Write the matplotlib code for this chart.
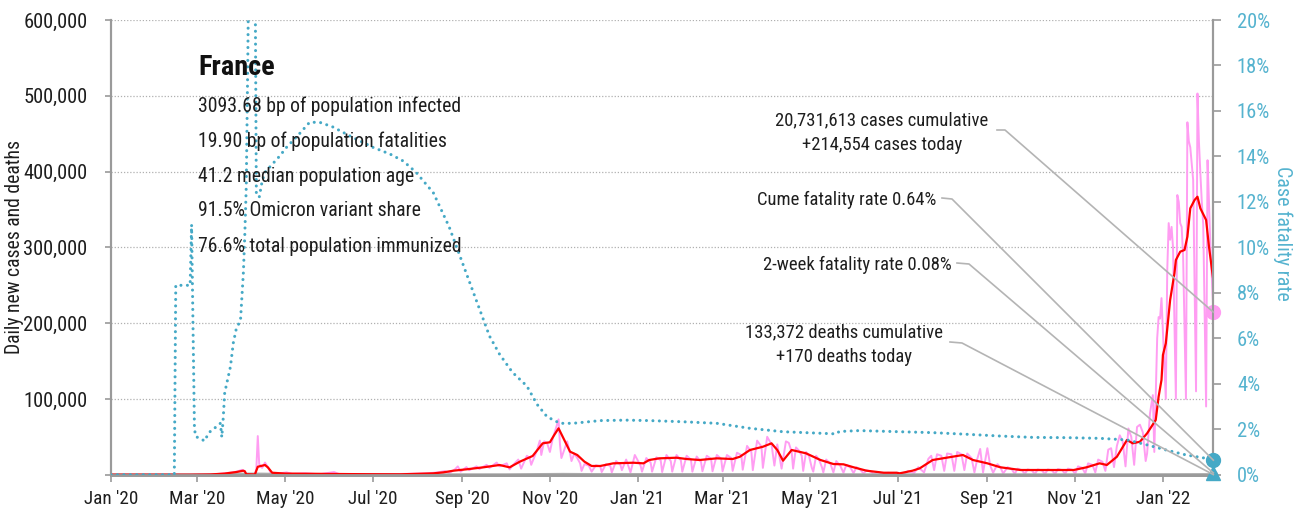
import matplotlib
matplotlib.use('Agg')
import matplotlib.pyplot as plt
import matplotlib.dates as mdates
from matplotlib.lines import Line2D
from matplotlib import font_manager
import pandas as pd

# --- fonts: prefer a narrow/condensed face if one is installed -------------
FONT, STRETCH = 'DejaVu Sans', 'normal'
cands = []
for f in font_manager.fontManager.ttflist:
    key = (f.name + ' ' + f.fname).lower()
    if f.weight in (400, 'normal', 'regular') and f.style == 'normal' and \
            ('narrow' in key or 'condensed' in key) and 'mono' not in key and 'serif' not in key:
        cands.append(f)
for pref in ('liberation sans narrow', 'roboto condensed', 'open sans condensed', 'noto sans', 'dejavu sans'):
    hit = [f for f in cands if pref in (f.name + ' ' + f.fname).lower()]
    if hit:
        FONT, STRETCH = hit[0].name, hit[0].stretch
        break
plt.rcParams['font.family'] = [FONT, 'DejaVu Sans']
plt.rcParams['font.stretch'] = STRETCH

# --- data ----------------------------------------------------
# 7-day average of new cases (red)
avg_dates = ['2020-01-01', '2020-02-25', '2020-03-10', '2020-03-20', '2020-03-28', '2020-04-02',
             '2020-04-03', '2020-04-04', '2020-04-10', '2020-04-12', '2020-04-17', '2020-04-19',
             '2020-04-22', '2020-05-01', '2020-05-20', '2020-06-15', '2020-07-01', '2020-07-20',
             '2020-08-12', '2020-08-19', '2020-08-26', '2020-09-04', '2020-09-16', '2020-09-27',
             '2020-10-04', '2020-10-11', '2020-10-20', '2020-10-27', '2020-11-01', '2020-11-04',
             '2020-11-07', '2020-11-11', '2020-11-15', '2020-11-20', '2020-11-25', '2020-11-30',
             '2020-12-06', '2020-12-15', '2020-12-29', '2021-01-05', '2021-01-09', '2021-01-16',
             '2021-01-28', '2021-02-04', '2021-02-13', '2021-02-25', '2021-03-08', '2021-03-13',
             '2021-03-20', '2021-03-29', '2021-04-04', '2021-04-08', '2021-04-12', '2021-04-18',
             '2021-04-28', '2021-05-08', '2021-05-17', '2021-05-24', '2021-05-31', '2021-06-09',
             '2021-06-21', '2021-06-30', '2021-07-02', '2021-07-11', '2021-07-16', '2021-07-25',
             '2021-08-01', '2021-08-15', '2021-08-22', '2021-09-01', '2021-09-10', '2021-09-24',
             '2021-10-15', '2021-10-31', '2021-11-09', '2021-11-18', '2021-11-23', '2021-11-30',
             '2021-12-07', '2021-12-11', '2021-12-16', '2021-12-21', '2021-12-27', '2021-12-29',
             '2021-12-31', '2022-01-01', '2022-01-03', '2022-01-06', '2022-01-09', '2022-01-10',
             '2022-01-13', '2022-01-16', '2022-01-18', '2022-01-20', '2022-01-23', '2022-01-25',
             '2022-01-27', '2022-01-31', '2022-02-02', '2022-02-05']
avg_cases = [0, 0, 300, 1500, 3500, 5300,
             4500, 600, 300, 10500, 12800, 9700,
             2600, 1500, 1200, 800, 600, 500,
             1800, 3100, 5300, 7100, 9800, 12800,
             9700, 17100, 24700, 41400, 42800, 52400,
             61200, 45800, 30400, 26000, 17200, 11500,
             11500, 15000, 15800, 15000, 19400, 21600,
             22400, 20700, 19400, 21600, 20700, 23700,
             32600, 36900, 41400, 32600, 18500, 32600,
             28200, 19400, 14100, 13700, 9800, 5300,
             2600, 2600, 1800, 5300, 8400, 19400,
             21600, 26000, 19400, 15000, 9800, 6200,
             6200, 6200, 9800, 15000, 12800, 23700,
             45800, 41400, 43500, 54600, 72200, 103000,
             125000, 158000, 173400, 230500, 265800, 283300,
             294300, 296500, 314100, 351500, 362500, 366800,
             351500, 336100, 300900, 256900]

# daily new cases (pink)
daily_dates = ['2020-01-01', '2020-02-25', '2020-03-10', '2020-03-15', '2020-03-20', '2020-03-25',
               '2020-03-29', '2020-04-01', '2020-04-03', '2020-04-04', '2020-04-10', '2020-04-11',
               '2020-04-12', '2020-04-13', '2020-04-15', '2020-04-17', '2020-04-19', '2020-04-21',
               '2020-04-26', '2020-05-02', '2020-05-06', '2020-05-15', '2020-05-25', '2020-06-04',
               '2020-06-08', '2020-06-20', '2020-07-05', '2020-07-20', '2020-08-01', '2020-08-08',
               '2020-08-15', '2020-08-20', '2020-08-23', '2020-08-27', '2020-08-29', '2020-08-31',
               '2020-09-04', '2020-09-06', '2020-09-11', '2020-09-13', '2020-09-18', '2020-09-20',
               '2020-09-25', '2020-09-27', '2020-10-02', '2020-10-04', '2020-10-06', '2020-10-10',
               '2020-10-12', '2020-10-16', '2020-10-18', '2020-10-19', '2020-10-23', '2020-10-25',
               '2020-10-26', '2020-10-28', '2020-10-30', '2020-11-01', '2020-11-03', '2020-11-05',
               '2020-11-07', '2020-11-08', '2020-11-09', '2020-11-11', '2020-11-13', '2020-11-15',
               '2020-11-16', '2020-11-18', '2020-11-20', '2020-11-22', '2020-11-23', '2020-11-25',
               '2020-11-28', '2020-11-30', '2020-12-03', '2020-12-06', '2020-12-07', '2020-12-10',
               '2020-12-13', '2020-12-14', '2020-12-17', '2020-12-20', '2020-12-21', '2020-12-24',
               '2020-12-27', '2020-12-30', '2021-01-03', '2021-01-04', '2021-01-07', '2021-01-10',
               '2021-01-11', '2021-01-14', '2021-01-17', '2021-01-18', '2021-01-21', '2021-01-24',
               '2021-01-25', '2021-01-28', '2021-01-31', '2021-02-01', '2021-02-04', '2021-02-07',
               '2021-02-08', '2021-02-11', '2021-02-14', '2021-02-15', '2021-02-18', '2021-02-21',
               '2021-02-22', '2021-02-25', '2021-02-28', '2021-03-01', '2021-03-04', '2021-03-07',
               '2021-03-08', '2021-03-11', '2021-03-14', '2021-03-15', '2021-03-18', '2021-03-21',
               '2021-03-22', '2021-03-25', '2021-03-28', '2021-03-29', '2021-04-01', '2021-04-04',
               '2021-04-06', '2021-04-08', '2021-04-11', '2021-04-14', '2021-04-16', '2021-04-18',
               '2021-04-19', '2021-04-21', '2021-04-23', '2021-04-25', '2021-04-26', '2021-04-28',
               '2021-04-30', '2021-05-02', '2021-05-03', '2021-05-05', '2021-05-07', '2021-05-09',
               '2021-05-10', '2021-05-12', '2021-05-15', '2021-05-17', '2021-05-19', '2021-05-22',
               '2021-05-24', '2021-05-26', '2021-05-29', '2021-05-31', '2021-06-02', '2021-06-05',
               '2021-06-07', '2021-06-09', '2021-06-12', '2021-06-14', '2021-06-17', '2021-06-21',
               '2021-06-24', '2021-06-28', '2021-07-01', '2021-07-05', '2021-07-08', '2021-07-12',
               '2021-07-15', '2021-07-19', '2021-07-22', '2021-07-24', '2021-07-26', '2021-07-28',
               '2021-07-31', '2021-08-02', '2021-08-04', '2021-08-07', '2021-08-09', '2021-08-11',
               '2021-08-14', '2021-08-16', '2021-08-18', '2021-08-21', '2021-08-23', '2021-08-25',
               '2021-08-27', '2021-08-29', '2021-09-01', '2021-09-03', '2021-09-05', '2021-09-08',
               '2021-09-10', '2021-09-12', '2021-09-15', '2021-09-18', '2021-09-20', '2021-09-22',
               '2021-09-25', '2021-09-27', '2021-09-29', '2021-10-02', '2021-10-04', '2021-10-06',
               '2021-10-09', '2021-10-11', '2021-10-13', '2021-10-16', '2021-10-18', '2021-10-20',
               '2021-10-23', '2021-10-25', '2021-10-27', '2021-10-30', '2021-11-01', '2021-11-03',
               '2021-11-06', '2021-11-08', '2021-11-10', '2021-11-13', '2021-11-15', '2021-11-17',
               '2021-11-20', '2021-11-22', '2021-11-24', '2021-11-26', '2021-11-28', '2021-11-30',
               '2021-12-02', '2021-12-04', '2021-12-06', '2021-12-08', '2021-12-10', '2021-12-12',
               '2021-12-14', '2021-12-16', '2021-12-18', '2021-12-20', '2021-12-21', '2021-12-23',
               '2021-12-25', '2021-12-26', '2021-12-28', '2021-12-29', '2021-12-30', '2021-12-31',
               '2022-01-03', '2022-01-04', '2022-01-05', '2022-01-06', '2022-01-07', '2022-01-08',
               '2022-01-10', '2022-01-11', '2022-01-12', '2022-01-13', '2022-01-14', '2022-01-15',
               '2022-01-17', '2022-01-18', '2022-01-19', '2022-01-20', '2022-01-21', '2022-01-22',
               '2022-01-24', '2022-01-25', '2022-01-26', '2022-01-27', '2022-01-28', '2022-01-29',
               '2022-01-31', '2022-02-01', '2022-02-02', '2022-02-03', '2022-02-04', '2022-02-05']
daily_cases = [0, 0, 400, 900, 1800, 2900,
               4300, 6500, 4000, 0, 0, 8000,
               51000, 14000, 9000, 16000, 10000, 2500,
               1500, 3000, 1000, 1800, 600, 3500,
               500, 900, 400, 900, 1400, 1800,
               3000, 4800, 2000, 7000, 11000, 4000,
               10000, 6000, 11000, 7500, 13000, 9000,
               16000, 11000, 15000, 7000, 12000, 20000,
               8000, 25000, 22000, 13000, 32000, 45000,
               26000, 44000, 42000, 30000, 48000, 60000,
               73000, 40000, 22000, 33000, 44000, 28000,
               18000, 28000, 22000, 15000, 5000, 14000,
               12000, 4000, 12500, 11000, 3500, 14000,
               11500, 3000, 18000, 13000, 6000, 20000,
               3000, 26000, 12000, 4000, 22000, 16000,
               4000, 23000, 19000, 3500, 26000, 18000,
               4000, 26000, 19000, 4000, 25000, 20000,
               4000, 24000, 17000, 4500, 25000, 21000,
               4500, 26000, 21000, 4500, 26000, 22000,
               5000, 29000, 26000, 6500, 38000, 30000,
               6000, 45000, 37000, 9000, 50000, 40000,
               12000, 40000, 8000, 44000, 42000, 30000,
               8000, 36000, 32000, 25000, 5000, 30000,
               25000, 9000, 4000, 25000, 20000, 10000,
               3000, 20000, 14000, 3000, 18000, 11000,
               2500, 13000, 9000, 2000, 10000, 6000,
               1500, 6000, 4000, 1000, 3500, 1000,
               2500, 1000, 2500, 1000, 5000, 2000,
               10000, 3000, 21000, 25000, 6000, 27000,
               25000, 5000, 28000, 27000, 5000, 30000,
               27000, 6000, 28000, 22000, 3000, 21000,
               34000, 3000, 35000, 12000, 2500, 14000,
               10000, 1500, 10000, 7000, 1000, 8000,
               6000, 800, 7000, 5500, 700, 7000,
               5500, 700, 7000, 5500, 700, 7500,
               6000, 1000, 8000, 6500, 1000, 11000,
               9000, 1500, 15000, 13000, 3000, 20000,
               17000, 5000, 33000, 35000, 10000, 38000,
               52000, 44000, 11000, 61000, 50000, 13000,
               63000, 66000, 56000, 18000, 28000, 81000,
               105000, 30000, 180000, 208000, 206000, 233000,
               100000, 270000, 332000, 310000, 327000, 300000,
               100000, 369000, 360000, 332000, 327000, 290000,
               100000, 465000, 440000, 432000, 410000, 389000,
               110000, 503000, 440000, 398000, 360000, 330000,
               90000, 415000, 360000, 300000, 260000, 214554]

# daily deaths, 7-day average (grey, near zero on this scale)
death_dates = ['2020-01-01', '2020-03-10', '2020-04-05', '2020-04-15', '2020-05-15', '2020-06-15',
               '2020-08-01', '2020-10-01', '2020-11-10', '2020-12-01', '2021-02-01', '2021-04-15',
               '2021-06-15', '2021-08-20', '2021-10-15', '2021-12-20', '2022-01-31', '2022-02-05']
deaths = [0, 10, 1000, 900, 150, 30, 15, 60, 600, 350, 350, 300, 40, 100, 30, 150, 280, 170]

# case fatality rate, % (dotted teal, right axis)
cfr_dates = ['2020-01-01', '2020-02-14', '2020-02-15', '2020-02-25', '2020-02-26', '2020-02-28',
             '2020-02-29', '2020-03-03', '2020-03-06', '2020-03-09', '2020-03-14', '2020-03-17',
             '2020-03-18', '2020-03-19', '2020-03-20', '2020-03-24', '2020-03-26', '2020-03-28',
             '2020-03-31', '2020-04-02', '2020-04-03', '2020-04-04', '2020-04-05', '2020-04-06',
             '2020-04-10', '2020-04-11', '2020-04-13', '2020-04-15', '2020-04-17', '2020-04-27',
             '2020-05-02', '2020-05-11', '2020-05-18', '2020-05-25', '2020-06-03', '2020-06-15',
             '2020-07-01', '2020-07-13', '2020-07-22', '2020-07-31', '2020-08-12', '2020-08-23',
             '2020-08-30', '2020-09-06', '2020-09-13', '2020-09-20', '2020-09-27', '2020-10-06',
             '2020-10-16', '2020-10-23', '2020-10-30', '2020-11-08', '2020-11-17', '2020-12-06',
             '2020-12-24', '2021-01-09', '2021-02-01', '2021-02-25', '2021-03-20', '2021-04-12',
             '2021-05-17', '2021-05-19', '2021-05-21', '2021-06-04', '2021-07-02', '2021-07-25',
             '2021-08-17', '2021-09-10', '2021-10-03', '2021-10-26', '2021-11-18', '2021-12-07',
             '2021-12-21', '2022-01-03', '2022-01-17', '2022-01-31', '2022-02-05']
cfr = [0, 0, 8.33, 8.33, 11.0, 2.0,
       1.67, 1.6, 1.48, 1.85, 2.1, 2.26,
       1.65, 2.5, 3.6, 4.75, 5.8, 6.4,
       6.8, 8.9, 10.6, 12.7, 17.9, 24.0,
       24.0, 12.4, 12.2, 12.9, 13.3, 14.0,
       14.4, 15.0, 15.5, 15.5, 15.3, 14.9,
       14.4, 14.1, 13.8, 13.3, 12.4, 10.9,
       9.7, 8.5, 7.3, 6.1, 5.3, 4.5,
       3.9, 3.1, 2.55, 2.26, 2.26, 2.38,
       2.4, 2.38, 2.33, 2.26, 2.04, 1.89,
       1.80, 1.79, 1.90, 1.94, 1.89, 1.85,
       1.78, 1.70, 1.64, 1.63, 1.60, 1.53,
       1.31, 1.09, 0.87, 0.72, 0.64]

x_ticks = ['2020-01-01', '2020-03-01', '2020-05-01', '2020-07-01', '2020-09-01', '2020-11-01',
           '2021-01-01', '2021-03-01', '2021-05-01', '2021-07-01', '2021-09-01', '2021-11-01',
           '2022-01-01']

stats = ['3093.68 bp of population infected', '19.90 bp of population fatalities',
         '41.2 median population age', '91.5% Omicron variant share',
         '76.6% total population immunized']
two_week_cfr = 0.08
last_day = '2022-02-05'

# --- colours -------------------------------------------------
PINK = '#ff9df2'
RED = '#ff0000'
TEAL = '#45a9c6'
TEAL_TXT = '#55b3cf'
GREY = '#9a9a9a'
INK = '#1e1e1e'
W, H = 1295, 511


def px(x, y):
    return x / W, 1 - y / H


fig = plt.figure(figsize=(W / 100, H / 100), dpi=100)
renderer = fig.canvas.get_renderer()


def fit(s, width, weight='normal'):
    # font size that gives the same text width as in the reference
    tt = fig.text(0, 0, s, fontsize=10, fontweight=weight)
    w = tt.get_window_extent(renderer).width
    tt.remove()
    return 10 * width / w


FS_TICK = fit('600,000', 64)
FS_XTICK = fit("Mar '20", 56)
FS_BODY = fit(stats[0], 262)
FS_TITLE = fit('France', 76, 'semibold')
FS_NOTE = fit('Cume fatality rate 0.64%', 178)
FS_YLAB = fit('Daily new cases and deaths', 212)
FS_Y2LAB = fit('Case fatality rate', 133)

ax = fig.add_axes([111 / W, 1 - 474.7 / H, (1213.3 - 111) / W, (474.7 - 20) / H])
ax2 = ax.twinx()

t = pd.to_datetime
ax.plot(t(daily_dates), daily_cases, color=PINK, lw=1.4, zorder=2)
ax.plot(t(death_dates), deaths, color='#aaaaaa', lw=2, zorder=3)
ax.plot(t(avg_dates), avg_cases, color=RED, lw=1.6, zorder=4)
ax2.plot(t(cfr_dates), cfr, color=TEAL, lw=2.2, linestyle=(0, (0.01, 2.1)),
         dash_capstyle='round', zorder=3)

end = t(last_day)
ax.plot([end], [daily_cases[-1]], 'o', color=PINK, ms=10, clip_on=False, zorder=6)
ax.plot([end], [deaths[-1]], 'o', color='#aaaaaa', ms=6, clip_on=False, zorder=6)
ax2.plot([end], [cfr[-1]], 'o', color=TEAL, ms=10, clip_on=False, zorder=6)
ax2.plot([end], [two_week_cfr], '^', color=TEAL, ms=10, clip_on=False, zorder=6)

# axes styling
ax.set_xlim(t('2020-01-01'), end)
ax.set_ylim(0, 600000)
ax2.set_ylim(0, 20)
ax.set_yticks(range(0, 600001, 100000))
ax.yaxis.set_major_formatter(plt.FuncFormatter(lambda v, p: '' if v == 0 else f'{v:,.0f}'))
ax2.set_yticks(range(0, 21, 2))
ax2.yaxis.set_major_formatter(plt.FuncFormatter(lambda v, p: f'{v:.0f}%'))
ax.set_xticks(t(x_ticks))
ax.xaxis.set_major_formatter(mdates.DateFormatter("%b '%y"))

ax.grid(axis='y', color='#b0b0b0', linestyle=(0, (1, 1.5)), lw=0.9)
for a in (ax, ax2):
    a.spines['top'].set_visible(False)
    for side in ('left', 'right', 'bottom'):
        a.spines[side].set_color(GREY)
    a.spines['left'].set_linewidth(1.5)
    a.spines['right'].set_linewidth(1.5)
    a.spines['bottom'].set_linewidth(2)
ax.tick_params(axis='y', length=4, width=1.2, color=GREY, pad=13, labelsize=FS_TICK, labelcolor=INK)
ax.tick_params(axis='x', length=5, width=1.2, color=GREY, pad=6, labelsize=FS_XTICK, labelcolor=INK)
ax2.tick_params(axis='y', length=6, width=1.2, color=GREY, pad=11, labelsize=FS_TICK, labelcolor=TEAL_TXT)

ax.set_ylabel('Daily new cases and deaths', fontsize=FS_YLAB, color=INK)
ax.yaxis.set_label_coords(-0.079, 0.5)
ax2.set_ylabel('Case fatality rate', fontsize=FS_Y2LAB, color=TEAL_TXT, rotation=270, va='center')
ax2.yaxis.set_label_coords(1.063, 0.53)

# title block
fig.text(*px(198, 75), 'France', fontsize=FS_TITLE, fontweight='semibold', color='#111111', va='baseline')
for i, s in enumerate(stats):
    fig.text(*px(198, 111.5 + 35 * i), s, fontsize=FS_BODY, color=INK, va='baseline')

# annotations with leader lines
fig.text(*px(882, 125), '20,731,613 cases cumulative', fontsize=FS_NOTE, color=INK, ha='center', va='baseline')
fig.text(*px(882, 150), '+214,554 cases today', fontsize=FS_NOTE, color=INK, ha='center', va='baseline')
fig.text(*px(936, 205), 'Cume fatality rate 0.64%', fontsize=FS_NOTE, color=INK, ha='right', va='baseline')
fig.text(*px(952, 270), '2-week fatality rate 0.08%', fontsize=FS_NOTE, color=INK, ha='right', va='baseline')
fig.text(*px(844, 337), '133,372 deaths cumulative', fontsize=FS_NOTE, color=INK, ha='center', va='baseline')
fig.text(*px(844, 362), '+170 deaths today', fontsize=FS_NOTE, color=INK, ha='center', va='baseline')

xe = mdates.date2num(end)
targets = [
    ((997, 130), (1005, 130), ax.transData.transform((xe, daily_cases[-1]))),
    ((942, 198), (952, 199), ax2.transData.transform((xe, cfr[-1]))),
    ((957, 263), (969, 264), ax2.transData.transform((xe, two_week_cfr))),
    ((950, 342), (962, 343), ax.transData.transform((xe, deaths[-1]))),
]
inv = fig.transFigure.inverted()
for a, b, c in targets:
    p0, p1 = px(*a), px(*b)
    p2 = inv.transform(c)
    fig.add_artist(Line2D([p0[0], p1[0], p2[0]], [p0[1], p1[1], p2[1]],
                          transform=fig.transFigure, color='#b4b4b4', lw=1.2, zorder=1))

fig.savefig('out.png', dpi=100)
